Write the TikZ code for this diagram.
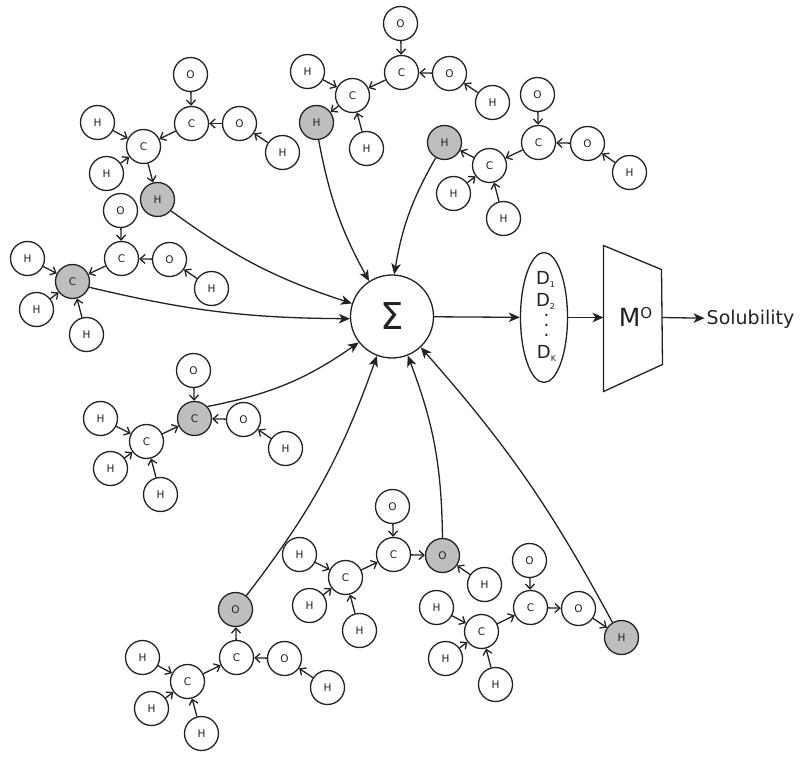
\documentclass[tikz,border=0pt]{standalone}
\usepackage{fontspec}
\setmainfont{DejaVu Sans}
\usetikzlibrary{shapes.geometric,arrows.meta}
\definecolor{atomgray}{HTML}{BEBEBE}
\definecolor{inkdark}{HTML}{222222}
\begin{document}
\begin{tikzpicture}
[x=1pt,y=-1pt,line width=1.3pt,color=inkdark,
atom/.style = {draw, circle, fill = white, inner sep = 0pt, minimum size = 34pt, font = \fontsize{10.5}{12}\selectfont},
hit/.style = {atom, fill = atomgray},
bond/.style = {-{Straight Barb[length=5pt,width=9pt]}},
link/.style = {-{Stealth[length=11pt,width=9.5pt,inset=3pt]}},
big/.style = {inner sep = 0pt, font = \fontsize{18}{20}\selectfont},]
\useasboundingbox (-0.5,-0.5) rectangle (799.5,758.5);
\node (Oa1) at (190,74)[atom] {O};
\node (Ca1) at (191,123)[atom] {C};
\node (Oa2) at (239,123)[atom] {O};
\node (Ha1) at (282,152)[atom] {H};
\node (Ca2) at (143,146)[atom] {C};
\node (Ha2) at (97,122)[atom] {H};
\node (Ha3) at (106,173)[atom] {H};
\node (Ha4) at (157,199)[hit] {H};
\node (Ob1) at (120,210)[atom] {O};
\node (Cb1) at (121,258)[atom] {C};
\node (Ob2) at (169,259)[atom] {O};
\node (Hb1) at (211,288)[atom] {H};
\node (Cb2) at (72,281)[hit] {C};
\node (Hb2) at (27,258)[atom] {H};
\node (Hb3) at (36,309)[atom] {H};
\node (Hb4) at (86,334)[atom] {H};
\node (Oc1) at (400,23)[atom] {O};
\node (Cc1) at (401,72)[atom] {C};
\node (Oc2) at (449,73)[atom] {O};
\node (Hc1) at (492,102)[atom] {H};
\node (Cc2) at (352,95)[atom] {C};
\node (Hc2) at (307,71)[atom] {H};
\node (Hc3) at (316,122)[hit] {H};
\node (Hc4) at (366,148)[atom] {H};
\node (Od1) at (537,94)[atom] {O};
\node (Cd1) at (538,142)[atom] {C};
\node (Od2) at (587,143)[atom] {O};
\node (Hd1) at (629,172)[atom] {H};
\node (Cd2) at (489,165)[atom] {C};
\node (Hd2) at (444,142)[hit] {H};
\node (Hd3) at (453,193)[atom] {H};
\node (Hd4) at (503,218)[atom] {H};
\node (Oe1) at (193,370)[atom] {O};
\node (Ce1) at (194,418)[hit] {C};
\node (Oe2) at (243,419)[atom] {O};
\node (He1) at (285,448)[atom] {H};
\node (Ce2) at (146,441)[atom] {C};
\node (He2) at (100,418)[atom] {H};
\node (He3) at (110,468)[atom] {H};
\node (He4) at (160,494)[atom] {H};
\node (Of1) at (235,609)[hit] {O};
\node (Cf1) at (236,657)[atom] {C};
\node (Of2) at (284,658)[atom] {O};
\node (Hf1) at (327,687)[atom] {H};
\node (Cf2) at (187,681)[atom] {C};
\node (Hf2) at (142,657)[atom] {H};
\node (Hf3) at (151,708)[atom] {H};
\node (Hf4) at (201,733)[atom] {H};
\node (Og1) at (392,506)[atom] {O};
\node (Cg1) at (393,554)[atom] {C};
\node (Og2) at (442,555)[hit] {O};
\node (Hg1) at (484,584)[atom] {H};
\node (Cg2) at (345,577)[atom] {C};
\node (Hg2) at (299,554)[atom] {H};
\node (Hg3) at (309,605)[atom] {H};
\node (Hg4) at (359,630)[atom] {H};
\node (Oh1) at (529,560)[atom] {O};
\node (Ch1) at (530,607)[atom] {C};
\node (Oh2) at (578,608)[atom] {O};
\node (Hh1) at (621,637)[hit] {H};
\node (Ch2) at (481,631)[atom] {C};
\node (Hh2) at (436,607)[atom] {H};
\node (Hh3) at (445,658)[atom] {H};
\node (Hh4) at (495,684)[atom] {H};
\node (Sum) at (391.5,316)[draw,circle,inner sep=0pt,minimum size=83pt,font=\fontsize{37}{40}\selectfont] {Σ};
\node (Desc) at (543.5,317)[draw,ellipse,inner sep=0pt,minimum width=47pt,minimum height=130pt] {};
\node (D1) at (545,279)[big] {D\raisebox{-3pt}{\fontsize{8}{8}\selectfont 1}};
\node (D2) at (545,301)[big] {D\raisebox{-3pt}{\fontsize{8}{8}\selectfont 2}};
\node (Dot1) at (546,315)[big] {.};
\node (Dot2) at (546,325)[big] {.};
\node (Dot3) at (546,335)[big] {.};
\node (Dk) at (546,353)[big] {D\raisebox{-3pt}{\fontsize{8}{8}\selectfont K}};
\coordinate (Ma) at (603,245);
\coordinate (Mb) at (661,269);
\coordinate (Mc) at (662,364);
\coordinate (Md) at (603,391);
\coordinate (Min) at (603,317);
\coordinate (Mout) at (661.5,317);
\draw (Ma)--(Mb)--(Mc)--(Md)--cycle;
\node (Model) at (635,316)[inner sep=0pt,font=\fontsize{25}{28}\selectfont] {M\raisebox{8pt}{\fontsize{15}{15}\selectfont O}};
\node (Sol) at (750,318.5)[inner sep=1.5pt,font=\fontsize{19}{22}\selectfont] {Solubility};
\draw[bond] (Oa1)--(Ca1);
\draw[bond] (Oa2)--(Ca1);
\draw[bond] (Ha1)--(Oa2);
\draw[bond] (Ca1)--(Ca2);
\draw[bond] (Ha2)--(Ca2);
\draw[bond] (Ha3)--(Ca2);
\draw[bond] (Ca2)--(Ha4);
\draw[bond] (Ob1)--(Cb1);
\draw[bond] (Ob2)--(Cb1);
\draw[bond] (Hb1)--(Ob2);
\draw[bond] (Cb1)--(Cb2);
\draw[bond] (Hb2)--(Cb2);
\draw[bond] (Hb3)--(Cb2);
\draw[bond] (Hb4)--(Cb2);
\draw[bond] (Oc1)--(Cc1);
\draw[bond] (Oc2)--(Cc1);
\draw[bond] (Hc1)--(Oc2);
\draw[bond] (Cc1)--(Cc2);
\draw[bond] (Hc2)--(Cc2);
\draw[bond] (Cc2)--(Hc3);
\draw[bond] (Hc4)--(Cc2);
\draw[bond] (Od1)--(Cd1);
\draw[bond] (Od2)--(Cd1);
\draw[bond] (Hd1)--(Od2);
\draw[bond] (Cd1)--(Cd2);
\draw[bond] (Cd2)--(Hd2);
\draw[bond] (Hd3)--(Cd2);
\draw[bond] (Hd4)--(Cd2);
\draw[bond] (Oe1)--(Ce1);
\draw[bond] (Oe2)--(Ce1);
\draw[bond] (He1)--(Oe2);
\draw[bond] (Ce2)--(Ce1);
\draw[bond] (He2)--(Ce2);
\draw[bond] (He3)--(Ce2);
\draw[bond] (He4)--(Ce2);
\draw[bond] (Cf1)--(Of1);
\draw[bond] (Of2)--(Cf1);
\draw[bond] (Hf1)--(Of2);
\draw[bond] (Cf2)--(Cf1);
\draw[bond] (Hf2)--(Cf2);
\draw[bond] (Hf3)--(Cf2);
\draw[bond] (Hf4)--(Cf2);
\draw[bond] (Og1)--(Cg1);
\draw[bond] (Cg1)--(Og2);
\draw[bond] (Hg1)--(Og2);
\draw[bond] (Cg2)--(Cg1);
\draw[bond] (Hg2)--(Cg2);
\draw[bond] (Hg3)--(Cg2);
\draw[bond] (Hg4)--(Cg2);
\draw[bond] (Oh1)--(Ch1);
\draw[bond] (Ch1)--(Oh2);
\draw[bond] (Oh2)--(Hh1);
\draw[bond] (Ch2)--(Ch1);
\draw[bond] (Hh2)--(Ch2);
\draw[bond] (Hh3)--(Ch2);
\draw[bond] (Hh4)--(Ch2);
\draw[link] (Ha4.-40) to[bend right=9] (Sum.162);
\draw[link] (Cb2.-19) to[bend right=6.5] (Sum.183);
\draw[link] (Hc3.-83) to[bend right=9] (Sum.123);
\draw[link] (Hd2.240) to[bend right=10] (Sum.87);
\draw[link] (Ce1.43) to[bend right=12] (Sum.218);
\draw[link] (Of1.52) to[bend right=9] (Sum.249);
\draw[link] (Og2.90) to[bend right=10] (Sum.292);
\draw[link] (Hh1.121) to[bend right=6.5] (Sum.313);
\draw[link] (Sum)--(Desc);
\draw[link] (Desc.east |- Min)--(Min);
\draw[link] (Mout)--(Sol);
\end{tikzpicture}
\end{document}
